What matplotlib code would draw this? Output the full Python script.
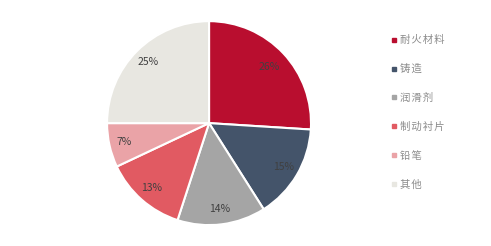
import matplotlib.pyplot as plt
from matplotlib.lines import Line2D

plt.rcParams['font.family'] = ['Noto Sans CJK SC', 'DejaVu Sans']

labels = ["耐火材料", "铸造", "润滑剂", "制动衬片", "铅笔", "其他"]
shares = [26, 15, 14, 13, 7, 25]
colors = ["#B90E2F", "#44546A", "#A5A5A5", "#E15A62", "#EAA3A7", "#E8E7E1"]

fig = plt.figure(figsize=(4.91, 2.46), dpi=100)
ax = fig.add_axes([0.218, 0.085, 0.4155, 0.829])

wedges, texts, autotexts = ax.pie(
    shares, colors=colors, startangle=90, counterclock=False,
    autopct="%d%%", pctdistance=0.85, radius=1.0,
    wedgeprops=dict(edgecolor="white", linewidth=1.5),
    textprops=dict(color="#404040", fontsize=7.5),
)
x, y = autotexts[0].get_position()
autotexts[0].set_position((x * 0.95, y * 0.95))

ax.set_xlim(-1, 1)
ax.set_ylim(-1, 1)
ax.set_aspect("equal")
ax.axis("off")

# legend text is drawn with a little spacing between characters
spaced = ["\u200a".join(s) for s in labels]
handles = [Line2D([0], [0], marker="s", linestyle="", markersize=2.2,
                  markerfacecolor=c, markeredgecolor=c) for c in colors]
leg = fig.legend(handles, spaced, loc="upper left", bbox_to_anchor=(0.779, 0.895),
                 frameon=False, fontsize=7.5, labelspacing=1.8,
                 handlelength=0.4, handletextpad=0.4)
for t in leg.get_texts():
    t.set_color("#8C8C8C")

fig.savefig("out.png", dpi=100)
